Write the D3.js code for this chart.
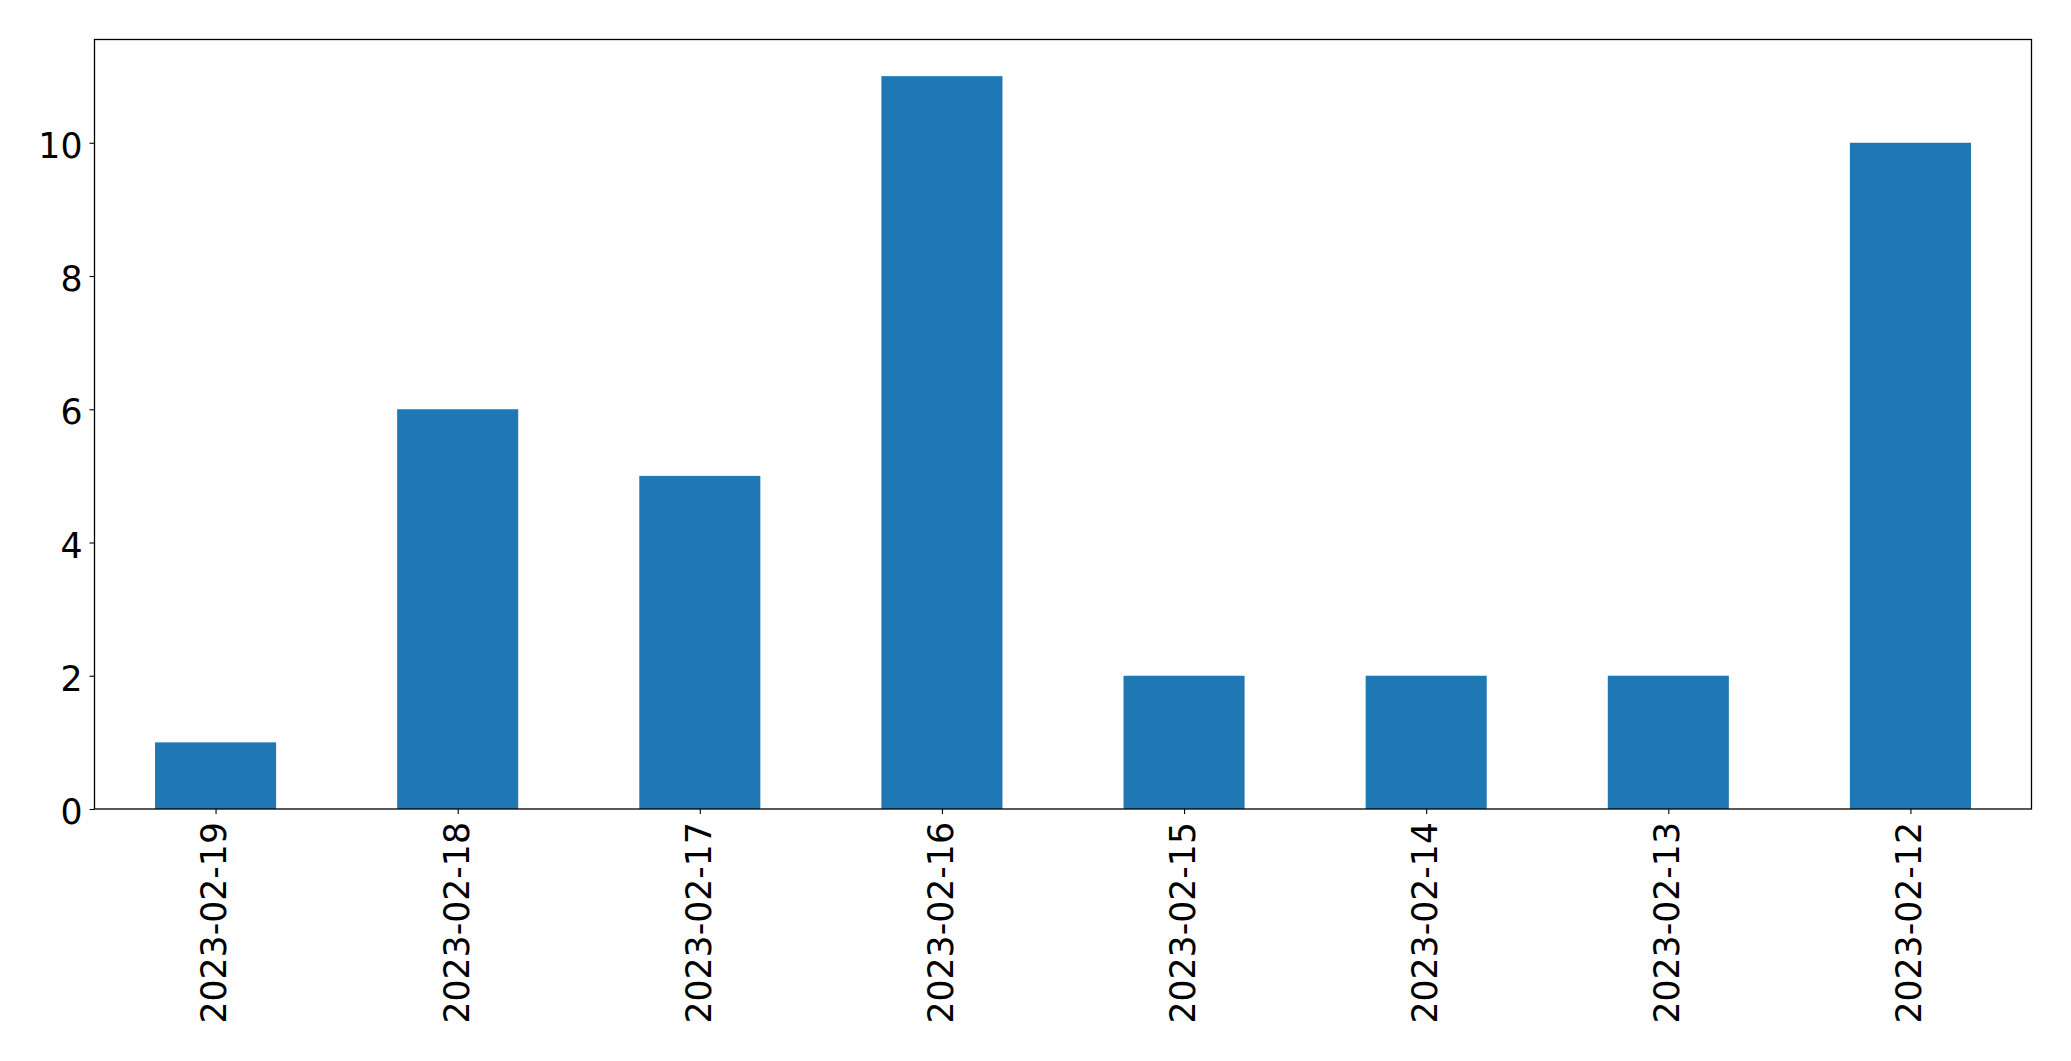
<!DOCTYPE html>
<html><head><meta charset="utf-8">
<script src="https://cdn.jsdelivr.net/npm/d3@7"></script>
<style>body{margin:0;background:#fff}svg{display:block}text{font-family:"DejaVu Sans",sans-serif}</style>
</head><body>
<script>
const categories = ["2023-02-19","2023-02-18","2023-02-17","2023-02-16","2023-02-15","2023-02-14","2023-02-13","2023-02-12"];
const values = [1, 6, 5, 11, 2, 2, 2, 10];
const yTicks = [0, 2, 4, 6, 8, 10];

const W = 2071, H = 1061;
const m = {left: 94.5, right: 2071 - 2031.5, top: 39.5, bottom: 1061 - 809};
const iw = W - m.left - m.right, ih = H - m.top - m.bottom;
const fs = 34.7;

const svg = d3.select("body").append("svg").attr("width", W).attr("height", H);
const g = svg.append("g").attr("transform", `translate(${m.left},${m.top})`);

const x = d3.scaleLinear().domain([-0.5, categories.length - 0.5]).range([0, iw]);
const y = d3.scaleLinear().domain([0, d3.max(values) * 1.05]).range([ih, 0]);

g.selectAll("rect.bar").data(values).join("rect").attr("class","bar")
  .attr("x", (d,i) => x(i - 0.25)).attr("width", x(0.25) - x(-0.25))
  .attr("y", d => y(d)).attr("height", d => y(0) - y(d))
  .attr("fill", "#1f77b4");

// frame
g.append("rect").attr("width", iw).attr("height", ih).attr("fill","none").attr("stroke","#000").attr("stroke-width",1.3);

// y axis
const ya = g.append("g").call(d3.axisLeft(y).tickValues(yTicks).tickSize(5).tickPadding(7).tickFormat(d3.format("d")));
ya.select(".domain").remove();
ya.selectAll("line").attr("stroke","#000").attr("stroke-width",1.1);
ya.selectAll("text").attr("font-size", fs).attr("fill","#000").attr("dy","0.42em").attr("font-family","DejaVu Sans");

// x axis
const xa = g.append("g").attr("transform",`translate(0,${ih})`)
  .call(d3.axisBottom(x).tickValues(d3.range(categories.length)).tickSize(5).tickFormat(i => categories[i]));
xa.select(".domain").remove();
xa.selectAll("line").attr("stroke","#000").attr("stroke-width",1.1);
xa.selectAll("text").attr("font-size", fs).attr("fill","#000").attr("font-family","DejaVu Sans")
  .attr("text-anchor","end").attr("transform","rotate(-90)")
  .attr("x", -13).attr("y", 0).attr("dy","0.3em");
</script>
</body></html>
